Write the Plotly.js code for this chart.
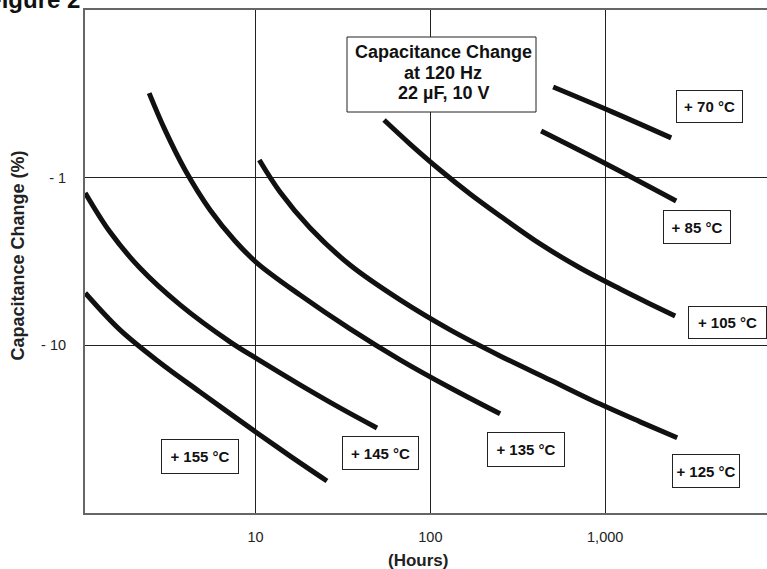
<!DOCTYPE html>
<html><head><meta charset="utf-8">
<script src="https://cdn.plot.ly/plotly-3.0.1.min.js"></script>
<style>
html,body{margin:0;padding:0;overflow:hidden;background:#fff;width:767px;height:569px;}
#chart{position:absolute;left:-20px;top:-20px;width:820px;height:600px;}
</style>
</head><body><div id="chart"></div>
<script>
// Capacitance change (%) vs time (hours) for each temperature
const hours70  = [504, 1096, 2385];
const change70 = [-0.288, -0.405, -0.579];

const hours85  = [430, 1040, 2547];
const change85 = [-0.527, -0.840, -1.377];

const hours105  = [54.3, 76.5, 113.6, 168.7, 250.5, 424.6, 719, 1218, 1808, 2513];
const change105 = [-0.453, -0.630, -0.900, -1.251, -1.692, -2.485, -3.455, -4.61, -5.66, -6.68];

const hours125  = [10.5, 13.8, 20.5, 34.7, 67.1, 129.7, 250.5, 484, 935, 1585, 2581];
const change125 = [-0.784, -1.217, -1.995, -3.32, -5.36, -8.09, -11.56, -16.08, -22.4, -28.6, -35.6];

const hours135  = [2.46, 3.03, 3.95, 5.49, 7.63, 10.2, 17.97, 34.7, 67.1, 129.7, 250.5];
const change135 = [-0.313, -0.519, -0.900, -1.558, -2.385, -3.23, -5.01, -7.98, -12.2, -17.9, -25.6];

const hours145  = [1.06, 1.47, 2.18, 3.70, 7.14, 10.2, 17.97, 30.4, 49.5];
const change145 = [-1.233, -2.11, -3.46, -5.74, -9.54, -12.05, -17.2, -23.6, -31.1];

const hours155  = [1.06, 1.676, 2.84, 4.81, 10.2, 15.7, 25.6];
const change155 = [-4.87, -8.09, -12.7, -18.97, -33.3, -45.6, -64.4];

const seriesNames = ['+ 70 °C', '+ 85 °C', '+ 105 °C', '+ 125 °C', '+ 135 °C', '+ 145 °C', '+ 155 °C'];
const xTickVals = [10, 100, 1000];
const xTickText = ['10', '100', '1,000'];
const yTickVals = [1, 10];
const yTickText = ['- 1', '- 10'];
const titleLines = ['Capacitance Change', 'at 120 Hz', '22 µF, 10 V'];

const allHours = [hours70, hours85, hours105, hours125, hours135, hours145, hours155];
const allChange = [change70, change85, change105, change125, change135, change145, change155];

const FONT = 'Liberation Sans, Arial, Helvetica, sans-serif';
const OFF = 20, L = 105, T = 30, PW = 695, PH = 503, W = 820, H = 600;
function px(x){ return (x + OFF - L) / PW; }
function py(y){ return (T + PH - (y + OFF)) / PH; }

const traces = allHours.map((hx, i) => ({
  x: hx,
  y: allChange[i].map(v => Math.abs(v)),
  name: seriesNames[i],
  type: 'scatter',
  mode: 'lines',
  line: {color: '#111', width: 5, shape: 'spline', smoothing: 1},
  hoverinfo: 'skip',
  showlegend: false
}));

// label boxes: [centerX, centerY, w, h] in page pixels
const labelBoxes = [
  [709.5, 106.5, 67, 33],
  [697, 227, 68, 34],
  [727.5, 322.5, 79, 33],
  [706, 471, 68, 34],
  [526, 449.5, 78, 35],
  [380.5, 453, 77, 34],
  [200, 456.5, 78, 35]
];

const annotations = labelBoxes.map((b, i) => ({
  xref: 'paper', yref: 'paper', x: px(b[0]), y: py(b[1]),
  xanchor: 'center', yanchor: 'middle', showarrow: false,
  text: seriesNames[i],
  font: {family: FONT, size: 15, color: '#111', weight: 700},
  bordercolor: '#222', borderwidth: 1, borderpad: 0, bgcolor: '#fff',
  width: b[2] - 2, height: b[3] - 2
}));

const titleYs = [51.7, 72.7, 93.3];
titleLines.forEach((t, i) => annotations.push({
  xref: 'paper', yref: 'paper', x: px(443), y: py(titleYs[i]),
  xanchor: 'center', yanchor: 'middle', showarrow: false, text: t,
  font: {family: FONT, size: 18, color: '#111', weight: 700}
}));

annotations.push({
  xref: 'paper', yref: 'paper', x: px(17.5), y: py(256),
  xanchor: 'center', yanchor: 'middle', showarrow: false, textangle: -90,
  text: 'Capacitance Change (%)',
  font: {family: FONT, size: 18, color: '#222', weight: 700}
});
annotations.push({
  xref: 'paper', yref: 'paper', x: px(418), y: py(560),
  xanchor: 'center', yanchor: 'middle', showarrow: false,
  text: '(Hours)',
  font: {family: FONT, size: 17, color: '#222', weight: 700}
});
annotations.push({
  xref: 'paper', yref: 'paper', x: px(-15), y: py(-1),
  xanchor: 'left', yanchor: 'middle', showarrow: false,
  text: 'Figure 2',
  font: {family: FONT, size: 24, color: '#111', weight: 700}
});

const layout = {
  width: W, height: H,
  margin: {l: L, r: W - L - PW, t: T, b: H - T - PH, pad: 0},
  paper_bgcolor: '#fff', plot_bgcolor: '#fff',
  font: {family: FONT, color: '#222'},
  xaxis: {
    type: 'log', range: [0.024, 4.0],
    tickvals: xTickVals, ticktext: xTickText, ticks: '',
    showgrid: true, gridcolor: '#222', gridwidth: 1,
    showline: true, linecolor: '#666', linewidth: 2, mirror: true,
    zeroline: false, tickfont: {family: FONT, size: 14.5, color: '#222'},
    ticklabelstandoff: 10, fixedrange: true
  },
  yaxis: {
    type: 'log', range: [2, -1],
    tickvals: yTickVals, ticktext: yTickText, ticks: '',
    showgrid: true, gridcolor: '#222', gridwidth: 1,
    showline: true, linecolor: '#666', linewidth: 2, mirror: true,
    zeroline: false, tickfont: {family: FONT, size: 14.5, color: '#222'},
    ticklabelstandoff: 14, fixedrange: true
  },
  shapes: [{
    type: 'rect', xref: 'paper', yref: 'paper',
    x0: px(347), x1: px(536), y0: py(112), y1: py(37),
    fillcolor: '#fff', line: {color: '#222', width: 1}, layer: 'above'
  }],
  annotations: annotations,
  showlegend: false
};

Plotly.newPlot('chart', traces, layout, {staticPlot: true, displayModeBar: false});
</script></body></html>
